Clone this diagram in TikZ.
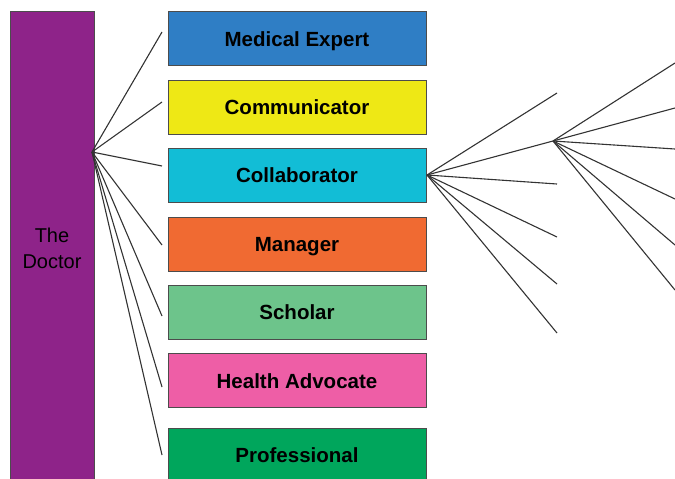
\documentclass[tikz,border=0pt]{standalone}
\usepackage{fontspec}
\setmainfont{Liberation Sans}
\definecolor{docpurple}{HTML}{8E2389}
\definecolor{expertblue}{HTML}{2F7EC5}
\definecolor{commyellow}{HTML}{EEE815}
\definecolor{collabcyan}{HTML}{12BDD6}
\definecolor{mgrorange}{HTML}{F06A32}
\definecolor{scholargreen}{HTML}{6DC48B}
\definecolor{advpink}{HTML}{EE5EA6}
\definecolor{profgreen}{HTML}{00A65C}
\begin{document}
\begin{tikzpicture}[
      x=1pt, y=-1pt,
      every node/.style={font=\fontsize{20}{26}\selectfont},
      doc/.style={draw=black!70, line width=0.8pt, fill=docpurple, minimum width=84pt, minimum height=474pt, align=center},
      role/.style={draw=black!70, line width=0.8pt, minimum width=258pt, minimum height=54pt, inner sep=0pt, text height=15pt, text depth=0pt, font=\fontsize{20.5}{24}\selectfont\bfseries},
      link/.style={draw=black!80, line width=1.1pt}
    ]
      \useasboundingbox (0,0) rectangle (675,479);
      \clip (0,0) rectangle (675,479);

      \node[doc] (doctor) at (52,248) {The\\Doctor};

      \node[role, fill=expertblue]   (expert)   at (297,38.5)  {Medical Expert};
      \node[role, fill=commyellow]   (comm)     at (297,107)   {Communicator};
      \node[role, fill=collabcyan]   (collab)   at (297,175)   {Collaborator};
      \node[role, fill=mgrorange]    (manager)  at (297,244)   {Manager};
      \node[role, fill=scholargreen] (scholar)  at (297,312)   {Scholar};
      \node[role, fill=advpink]      (advocate) at (297,380.5) {Health Advocate};
      \node[role, fill=profgreen]    (prof)     at (297,455)   {Professional};

      % fan from the doctor to the roles
      \coordinate (hubA) at (92,152);
      \coordinate (a1) at (162,32);
      \coordinate (a2) at (162,102);
      \coordinate (a3) at (162,166);
      \coordinate (a4) at (162,245);
      \coordinate (a5) at (162,316);
      \coordinate (a6) at (162,387);
      \coordinate (a7) at (162,455);
      \foreach \c in {a1,a2,a3,a4,a5,a6,a7}
        \draw[link] (hubA) -- (\c);

      % fan out of the collaborator
      \coordinate (hubB) at (427,175);
      \coordinate (hubC) at (553,141);
      \coordinate (b1) at (557,93);
      \coordinate (b3) at (557,184);
      \coordinate (b4) at (557,237);
      \coordinate (b5) at (557,284);
      \coordinate (b6) at (557,333);
      \foreach \c in {b1,hubC,b3,b4,b5,b6}
        \draw[link] (hubB) -- (\c);

      % second fan
      \coordinate (c1) at (675,63);
      \coordinate (c2) at (675,108);
      \coordinate (c3) at (675,149);
      \coordinate (c4) at (675,199);
      \coordinate (c5) at (675,245);
      \coordinate (c6) at (675,290);
      \foreach \c in {c1,c2,c3,c4,c5,c6}
        \draw[link] (hubC) -- (\c);
    \end{tikzpicture}
\end{document}
